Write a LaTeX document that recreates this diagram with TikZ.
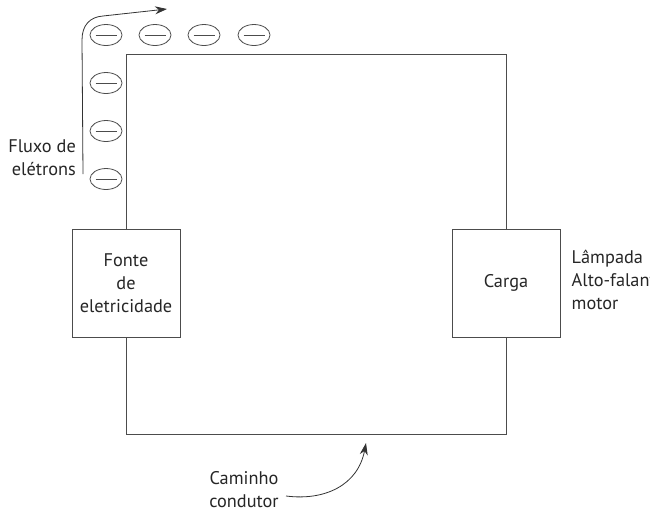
\documentclass[tikz,border=0pt]{standalone}
\usepackage{fontspec}
\setmainfont{PT Sans}
\usetikzlibrary{arrows.meta,shapes.geometric}
\definecolor{wire}{gray}{0.3}
\tikzset{
  x=1pt,y=-1pt,
  wireline/.style={draw=wire,line width=0.95pt},
  boxnode/.style={draw=wire,line width=0.95pt,minimum width=108pt,minimum height=108pt,inner sep=0pt,align=center},
  electron/.style={draw=wire,line width=0.8pt,ellipse,minimum width=32pt,minimum height=21pt,inner sep=0pt,
    path picture={\draw[wire,line width=0.8pt] ([xshift=5.5pt]path picture bounding box.west) -- ([xshift=-5.5pt]path picture bounding box.east);}},
  label/.style={font=\fontsize{18.3}{23}\selectfont,text=black!85,inner sep=0pt,align=center},
  flow/.style={draw=black!80,line width=0.8pt,-{Stealth[length=12pt,width=8pt]}}
}
\begin{document}
\begin{tikzpicture}
\useasboundingbox (0,0) rectangle (650,512);
\node[boxnode,label] (fonte) at (126,283) {Fonte\\de\\eletricidade};
\node[boxnode,label] (carga) at (506,283) {Carga};
\coordinate (tl) at (126,54);
\coordinate (tr) at (506,54);
\coordinate (bl) at (126,434);
\coordinate (br) at (506,434);
\draw[wireline] (fonte.north) -- (tl) -- (tr) -- (carga.north);
\draw[wireline] (fonte.south) -- (bl) -- (br) -- (carga.south);
\foreach \n/\px/\py in {a/106/35,b/155/35,c/204/35,d/254/35,e/106/83,f/106/131,g/106/179}{
  \node[electron] (\n) at (\px,\py) {};
}
\node[label,align=right,anchor=east] (fluxo) at (76,158) {Fluxo de\\elétrons};
\node[label,align=left,anchor=west] (lampada) at (571.5,279.5) {Lâmpada\\Alto-falante\\motor};
\node[label] (caminho) at (244,490) {Caminho\\condutor};
\coordinate (f0) at (83,174);
\coordinate (f1) at (167,9);
\draw[flow] (f0) -- (82,40) .. controls (82,25) and (90,17) .. (103,16) -- (f1);
\coordinate (c0) at (286,496);
\coordinate (c1) at (366,443);
\draw[flow] (c0) .. controls (325,501) and (358,485) .. (c1);
\end{tikzpicture}
\end{document}
